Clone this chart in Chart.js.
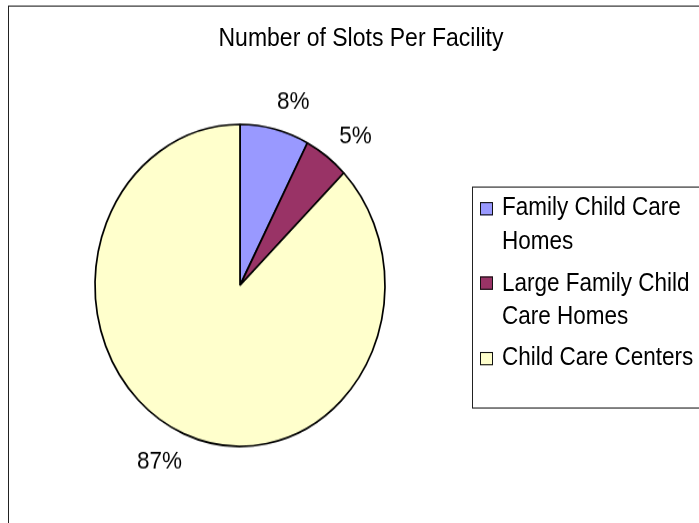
<!DOCTYPE html>
<html lang="en">
<head>
<script src="https://cdn.jsdelivr.net/npm/chart.js"></script>
<title>Number of Slots Per Facility</title>
<style>
  html, body { margin: 0; padding: 0; background: #fff; overflow: hidden; }
  body { width: 699px; height: 523px; position: relative; font-family: "Liberation Sans", Arial, sans-serif; }
  /* the original picture is stretched a little vertically, so is this one */
  #stage { position: absolute; left: 0; top: 0; width: 699px; height: 471px; transform: scaleY(1.1103); transform-origin: 0 0; }
  #frame { position: absolute; left: 8px; top: 4.5px; width: 720px; height: 520px; border: 1px solid #222; box-sizing: border-box; }
  #title { position: absolute; left: 0; top: 19.8px; width: 722px; text-align: center; font-size: 23px; line-height: 27px; color: #000; }
  #pieBox { position: absolute; left: 40px; top: 41.7px; width: 400px; height: 430px; }
  #legend { position: absolute; left: 472px; top: 168.4px; width: 260px; height: 200px; border: 1px solid #222; box-sizing: border-box; padding-top: 3px; }
  .item { position: relative; padding-left: 29px; font-size: 22.5px; line-height: 29.7px; color: #000; }
  .item + .item { margin-top: 8px; }
  .item span.txt { display: block; width: 200px; }
  .item span.sw { position: absolute; left: 6.5px; top: 9.5px; width: 13px; height: 12px; border: 1.5px solid #111; box-sizing: border-box; }
</style>
</head>
<body>
<div id="stage">
  <div id="frame"></div>
  <div id="title"></div>
  <div id="pieBox"><canvas id="myChart"></canvas></div>
  <div id="legend"></div>
</div>

<script>
const title = 'Number of Slots Per Facility';
const labels = ['Family Child Care Homes', 'Large Family Child Care Homes', 'Child Care Centers'];
const shares = [7.7, 5.0, 87.3];
const colors = ['#9999FF', '#993366', '#FFFFCC'];

document.getElementById('title').textContent = title;

// legend, wrapped like the original
const legend = document.getElementById('legend');
labels.forEach((lab, i) => {
  const row = document.createElement('div');
  row.className = 'item';
  const sw = document.createElement('span');
  sw.className = 'sw';
  sw.style.background = colors[i];
  const txt = document.createElement('span');
  txt.className = 'txt';
  txt.textContent = lab;
  row.appendChild(sw);
  row.appendChild(txt);
  legend.appendChild(row);
});

const total = shares.reduce((a, b) => a + b, 0);

// percentage labels just outside each slice
const pctLabels = {
  id: 'pctLabels',
  afterDatasetsDraw(chart) {
    const ctx = chart.ctx;
    const meta = chart.getDatasetMeta(0);
    ctx.save();
    ctx.font = '22.5px "Liberation Sans", Arial, sans-serif';
    ctx.fillStyle = '#000';
    ctx.textAlign = 'center';
    ctx.textBaseline = 'middle';
    meta.data.forEach((arc, i) => {
      const p = arc.getProps(['x', 'y', 'startAngle', 'endAngle', 'outerRadius'], true);
      const text = Math.round(shares[i] / total * 100) + '%';
      const a = (p.startAngle + p.endAngle) / 2 + 0.07;
      const dx = Math.cos(a), dy = Math.sin(a);
      const hw = ctx.measureText(text).width / 2, hh = 12.5;
      const r = p.outerRadius + 12 + Math.abs(dx) * hw + Math.abs(dy) * hh;
      ctx.fillText(text, p.x + dx * r, p.y + dy * r);
    });
    ctx.restore();
  }
};

new Chart(document.getElementById('myChart'), {
  type: 'pie',
  data: {
    labels: labels,
    datasets: [{
      data: shares,
      backgroundColor: colors,
      borderColor: '#000',
      borderWidth: 1.7,
      radius: 145
    }]
  },
  options: {
    responsive: true,
    maintainAspectRatio: false,
    animation: false,
    layout: { padding: 0 },
    plugins: {
      legend: { display: false },
      title: { display: false },
      tooltip: { enabled: false }
    }
  },
  plugins: [pctLabels]
});
</script>
</body>
</html>
